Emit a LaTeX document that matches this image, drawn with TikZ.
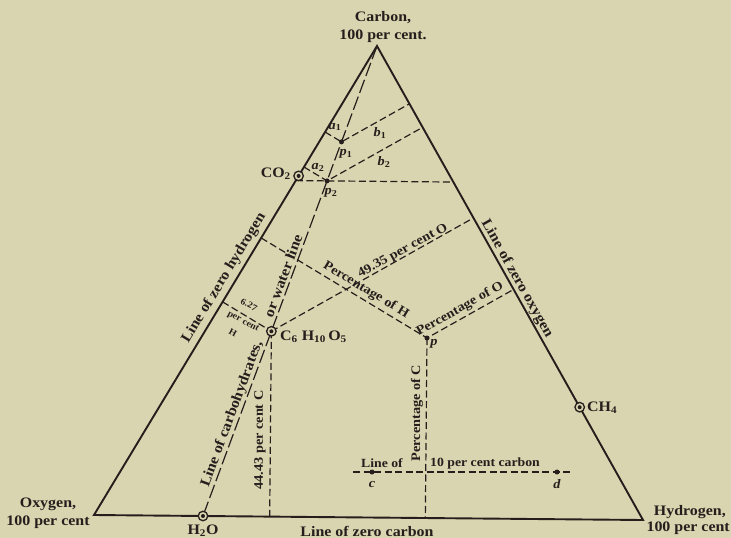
\documentclass[tikz,border=0pt]{standalone}
\usepackage{fontspec}
\setmainfont{Liberation Serif}[UprightFont=* Bold, ItalicFont=* Bold Italic, FakeStretch=1.1]
\usetikzlibrary{calc}
\definecolor{bgc}{RGB}{217,213,176}
\definecolor{ink}{RGB}{38,30,28}
\tikzset{
  edge/.style={line width=1.9pt, draw=ink, line join=miter},
  dsh/.style={line width=1.2pt, draw=ink, dash pattern=on 7pt off 3.5pt},
  ldsh/.style={line width=1.2pt, draw=ink, dash pattern=on 14pt off 4pt},
  lbl/.style={font=\fontsize{14.5}{18}\selectfont, text=ink, inner sep=0pt},
  ilbl/.style={font=\fontsize{13}{15}\selectfont, text=ink, inner sep=0pt},
  slbl/.style={font=\fontsize{12.5}{14}\selectfont, text=ink, inner sep=0pt},
  tlbl/.style={font=\fontsize{9}{10}\selectfont, text=ink, inner sep=0pt},
  ring/.style={circle, draw=ink, line width=1.3pt, fill=bgc, minimum size=9.5pt, inner sep=0pt,
    path picture={\fill[ink] (path picture bounding box.center) circle (2pt);}},
  dot/.style={circle, fill=ink, minimum size=5pt, inner sep=0pt}
}
\begin{document}
\begin{tikzpicture}[x=1pt,y=-1pt]
\fill[bgc] (0,0) rectangle (731,538);
\useasboundingbox (0,0) rectangle (731,538);
\clip (0,0) rectangle (731,538);

% vertices
\coordinate (O) at (94,515);
\coordinate (H) at (643,520);
\coordinate (C) at (377,46);
% points
\coordinate (W) at ($(O)!0.1985!(H)$);
\coordinate (CO2) at ($(O)!0.723!(C)$);
\coordinate (CH4) at ($(H)!0.238!(C)$);
\coordinate (p1) at ($(W)!0.796!(C)$);
\coordinate (p2) at ($(W)!0.713!(C)$);
\coordinate (K) at ($(W)!0.393!(C)$);
\coordinate (p) at (427,338);
\coordinate (c) at (372,472);
\coordinate (d) at (557,472);
\coordinate (tenL) at (353,472);
\coordinate (tenR) at (573,472);
% perpendicular feet
\coordinate (a1f) at ($(O)!(p1)!(C)$);
\coordinate (b1f) at ($(H)!(p1)!(C)$);
\coordinate (a2f) at ($(O)!(p2)!(C)$);
\coordinate (b2f) at ($(H)!(p2)!(C)$);
\coordinate (Kh) at ($(O)!(K)!(C)$);
\coordinate (Ko) at ($(H)!(K)!(C)$);
\coordinate (Kc) at ($(O)!(K)!(H)$);
\coordinate (ph) at ($(O)!(p)!(C)$);
\coordinate (po) at ($(H)!(p)!(C)$);
\coordinate (pc) at ($(O)!(p)!(H)$);
\coordinate (p2r) at ($(p2)+(10,0.091)$);
\coordinate (hl) at (intersection of O--C and p2--p2r);
\coordinate (hr) at (intersection of H--C and p2--p2r);

% construction lines
\draw[ldsh] (C) -- (W);
\draw[dsh] (a1f) -- (p1) -- (b1f);
\draw[dsh] (a2f) -- (p2) -- (b2f);
\draw[dsh] (hl) -- (hr);
\draw[dsh] (Kh) -- (K);
\draw[dsh] (K) -- (Ko);
\draw[dsh] (K) -- (Kc);
\draw[dsh] (ph) -- (p) -- (po);
\draw[dsh] (p) -- (pc);
\draw[dsh] (tenL) -- (tenR);

% triangle
\draw[edge] (O) -- (C) -- (H) -- cycle;

% markers
\node[ring] (mW) at (W) {};
\node[ring] (mCO2) at (CO2) {};
\node[ring] (mCH4) at (CH4) {};
\node[ring] (mK) at (K) {};
\node[dot] (mp1) at (p1) {};
\node[dot] (mp2) at (p2) {};
\node[dot] (mp) at (p) {};
\node[dot] (mc) at (c) {};
\node[dot] (md) at (d) {};

% vertex labels
\node[lbl, align=center] (lC) at (383,27) {Carbon,\\100 per cent.};
\node[lbl, align=center] (lO) at (48,513) {Oxygen,\\100 per cent};
\node[lbl, anchor=east] (lH1) at (726,512) {Hydrogen,};
\node[lbl, anchor=east] (lH2) at (730,528) {100 per cent};
\node[lbl] (lzc) at (367,531) {Line of zero carbon};

% compound labels
\node[lbl] (lW) at (203,531) {H\textsubscript{2}O};
\node[lbl, anchor=east] (lCO2) at (291,174) {CO\textsubscript{2}};
\node[lbl, anchor=west] (lCH4) at (587,408) {CH\textsubscript{4}};
\node[lbl, anchor=west] (lK) at (280,337) {C\textsubscript{6} H\textsubscript{10}\,O\textsubscript{5}};

% point labels
\node[ilbl] (la1) at (335,127) {\textit{a}\textsubscript{1}};
\node[ilbl] (lb1) at (380,133) {\textit{b}\textsubscript{1}};
\node[ilbl] (lp1) at (346,154) {\textit{p}\textsubscript{1}};
\node[ilbl] (la2) at (318,167) {\textit{a}\textsubscript{2}};
\node[ilbl] (lb2) at (384,162) {\textit{b}\textsubscript{2}};
\node[ilbl] (lp2) at (331,193) {\textit{p}\textsubscript{2}};
\node[ilbl] (lp) at (434,344) {\textit{p}};
\node[ilbl] (lc) at (372,484) {\textit{c}};
\node[ilbl] (ld) at (557,484) {\textit{d}};

% edge labels
\node[lbl, rotate=58.9] (lzh) at (224,278) {Line of zero hydrogen};
\node[lbl, rotate=-60.7] (lzo) at (517,279) {Line of zero oxygen};
\node[lbl, rotate=69.7] (lcarb) at (232,414) {Line of carbohydrates,};
\node[lbl, rotate=69.7] (lwat) at (283,276) {or water line};

% construction labels
\node[ilbl, rotate=-31] (lpH) at (366,290) {Percentage of H};
\node[ilbl, rotate=29.3] (lpO) at (460,309) {Percentage of O};
\node[ilbl, rotate=28.5] (l49) at (403,251) {49.35 per cent O};
\node[ilbl, rotate=90] (lpC) at (417,413) {Percentage of C};
\node[ilbl, rotate=90] (l44) at (260,440) {44.43 per cent C};
\node[slbl] (lLine) at (382,463) {Line of};
\node[slbl] (l10) at (485,463) {10 per cent carbon};
\node[tlbl, rotate=-28] (l627) at (249,305) {6.27};
\node[tlbl, rotate=-28] (lpc) at (243,322) {per cent};
\node[tlbl, rotate=-28] (lHH) at (233,333) {H};
\end{tikzpicture}
\end{document}
